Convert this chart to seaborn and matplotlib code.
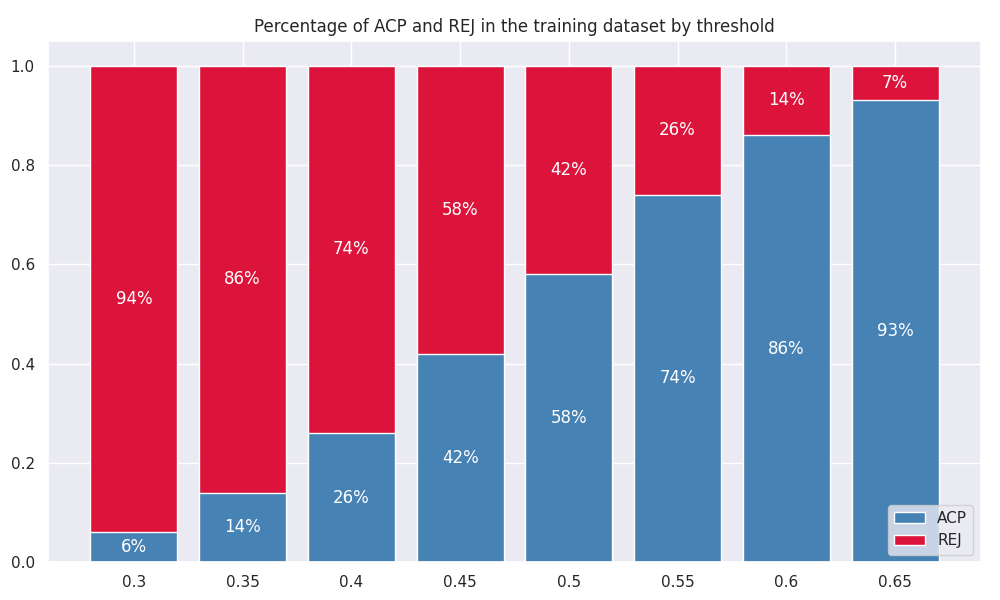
import matplotlib
matplotlib.use("Agg")
import matplotlib.pyplot as plt
import seaborn as sns
import pandas as pd
from matplotlib.patches import Patch

thresholds = ["0.3", "0.35", "0.4", "0.45", "0.5", "0.55", "0.6", "0.65"]
acp = [0.06, 0.14, 0.26, 0.42, 0.58, 0.74, 0.86, 0.93]
rej = [0.94, 0.86, 0.74, 0.58, 0.42, 0.26, 0.14, 0.07]

sns.set_theme(style="darkgrid")
plt.rcParams['font.family'] = ['DejaVu Sans']

df = pd.DataFrame({"threshold": thresholds, "ACP": acp, "REJ": rej})
df["total"] = df["ACP"] + df["REJ"]

fig, ax = plt.subplots(figsize=(10, 6), dpi=100)
fig.subplots_adjust(left=0.048, right=0.981, top=0.932, bottom=0.063)

sns.barplot(data=df, x="threshold", y="total", color="crimson", saturation=1,
            width=0.8, edgecolor="white", linewidth=1, ax=ax)
sns.barplot(data=df, x="threshold", y="ACP", color="steelblue", saturation=1,
            width=0.8, edgecolor="white", linewidth=1, ax=ax)

for i, (a, r) in enumerate(zip(acp, rej)):
    ax.text(i, a / 2, f"{round(a*100)}%", ha="center", va="center", color="white", fontsize=12)
    ax.text(i, a + r / 2, f"{round(r*100)}%", ha="center", va="center", color="white", fontsize=12)

n = len(thresholds)
ax.set_xlim(-0.4 - 0.39, n - 1 + 0.4 + 0.39)
ax.xaxis.grid(True)
ax.yaxis.grid(True)
ax.set_axisbelow(True)
ax.set_xlabel("")
ax.set_ylabel("")
ax.set_ylim(0, 1.05)
ax.set_title("Percentage of ACP and REJ in the training dataset by threshold")
ax.legend(handles=[Patch(facecolor="steelblue", edgecolor="white", label="ACP"),
                   Patch(facecolor="crimson", edgecolor="white", label="REJ")],
          loc="lower right")

fig.savefig("out.png", dpi=100)
